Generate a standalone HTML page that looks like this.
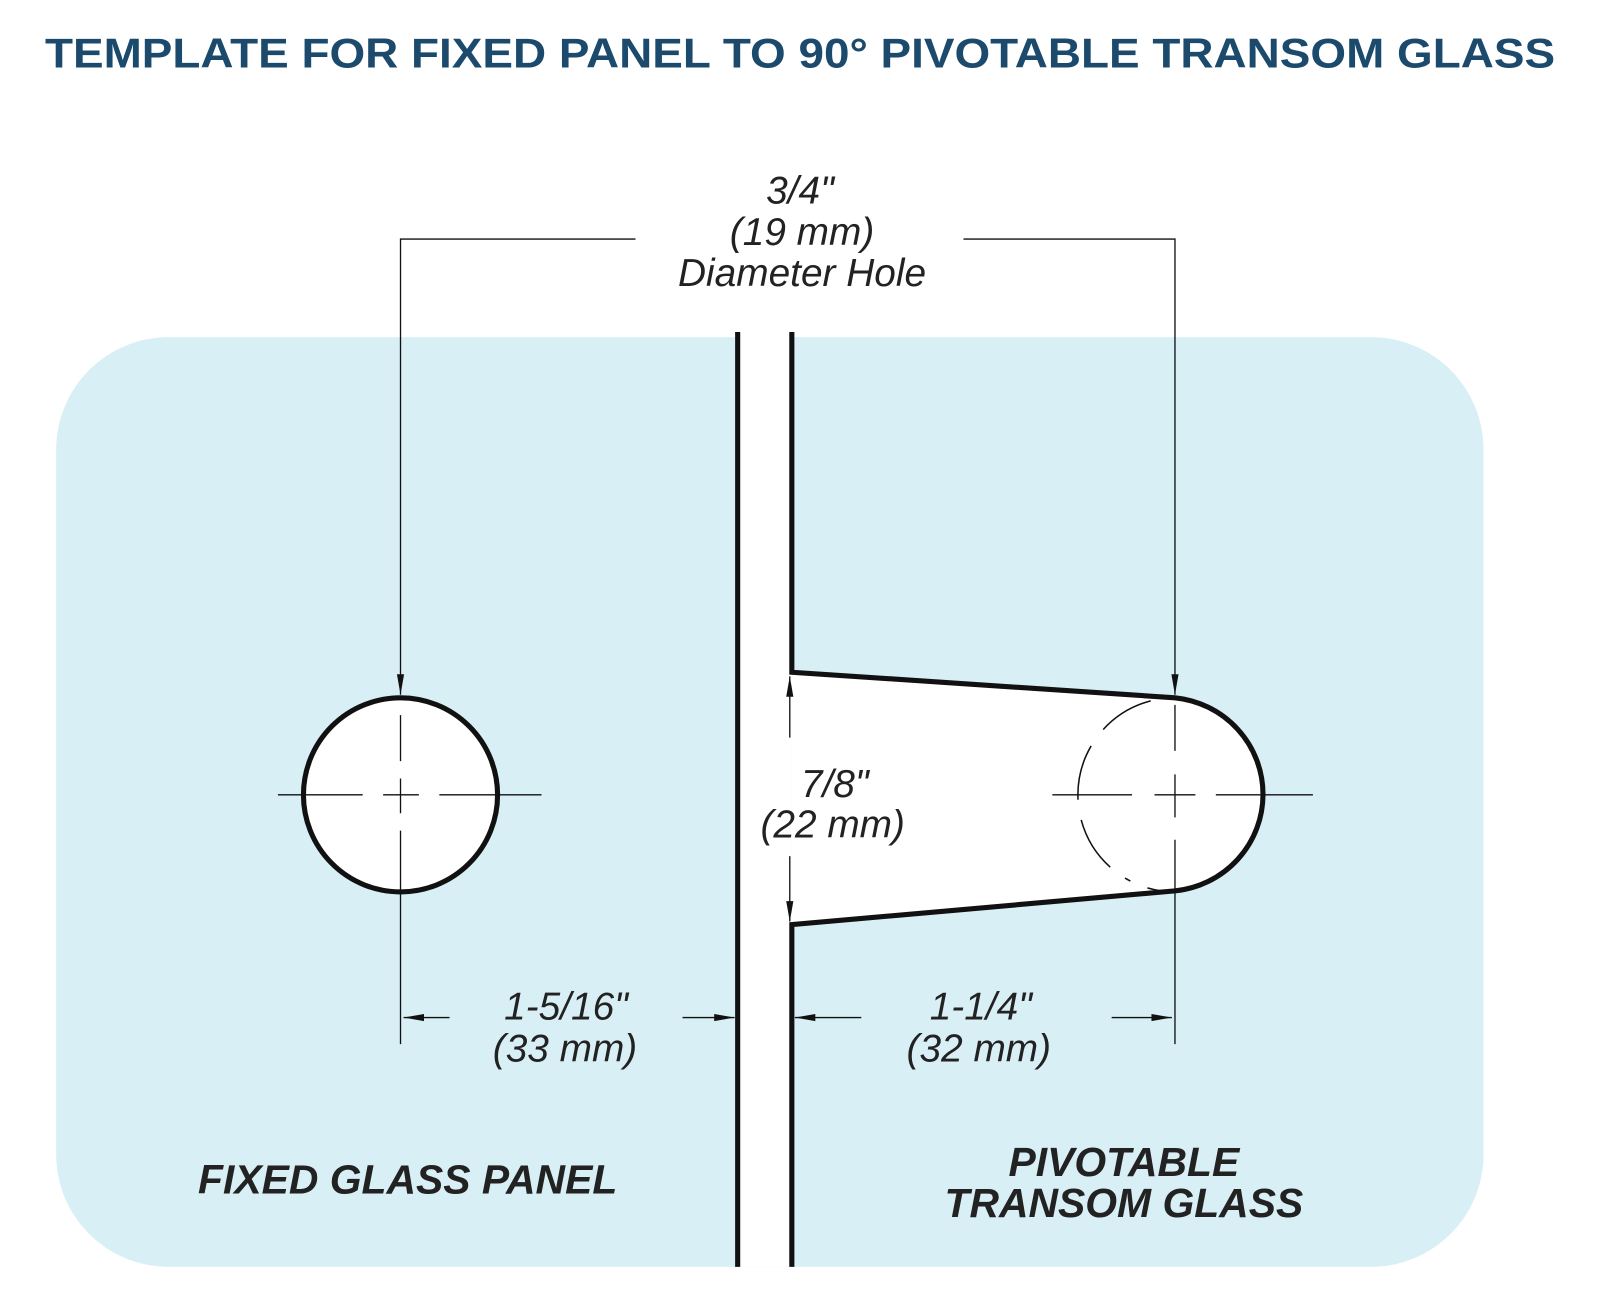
<!DOCTYPE html>
<html><head><meta charset="utf-8"><style>
html,body{margin:0;padding:0;background:#fff;}
svg{display:block;}
text{font-family:"Liberation Sans",Arial,sans-serif;}
</style></head><body>
<svg width="1600" height="1298" viewBox="0 0 1566 1270.5" preserveAspectRatio="none" xmlns="http://www.w3.org/2000/svg">
<defs>
<marker id="ahb" viewBox="0 0 20 10" refX="20" refY="5" markerWidth="22" markerHeight="10" markerUnits="userSpaceOnUse" orient="auto">
<path d="M0,1.5 L20,5 L0,8.5 z" fill="#111"/></marker>
</defs>
<text x="783" y="66" text-anchor="middle" font-size="41" font-weight="bold" fill="#1b4a6c" textLength="1478" lengthAdjust="spacingAndGlyphs">TEMPLATE FOR FIXED PANEL TO  90° PIVOTABLE TRANSOM GLASS</text>
<rect x="55" y="330" width="1397" height="910" rx="110" fill="#d9eff6"/>
<rect x="722" y="325" width="53" height="915" fill="#fff"/>
<path d="M775,658 L1150,683 A96,95 0 0 1 1150,872 L775,905 Z" fill="#fff"/>
<line x1="722" y1="325" x2="722" y2="1240" stroke="#111" stroke-width="5"/>
<path d="M775,325 L775,658 L1150,683 A96,95 0 0 1 1150,872 L775,905 L775,1240" fill="none" stroke="#111" stroke-width="5"/>
<path d="M1150,683 A95,95 0 0 0 1150,873" fill="none" stroke="#111" stroke-width="1.5" stroke-dasharray="6,18,55,20,55,20,55,18" />
<circle cx="392" cy="778" r="95" fill="#fff" stroke="#111" stroke-width="5"/>
<g stroke="#111" stroke-width="1.3">
<path d="M272,778 H355 M375,778 H410 M430,778 H530"/>
<path d="M392,700 V745 M392,762 V796 M392,813 V1022"/>
<path d="M1030,778 H1108 M1130,778 H1170 M1190,778 H1285"/>
<path d="M1150,690 V735 M1150,758 V800 M1150,822 V1022"/>
</g>
<g stroke="#111" stroke-width="1.3" fill="none">
<path d="M622,234 H392 V680" marker-end="url(#ahb)"/>
<path d="M943,234 H1150 V680" marker-end="url(#ahb)"/>
<path d="M773,722 V662" marker-end="url(#ahb)"/>
<path d="M773,838 V902" marker-end="url(#ahb)"/>
<path d="M440,996 H395" marker-end="url(#ahb)"/>
<path d="M668,996 H719" marker-end="url(#ahb)"/>
<path d="M843,996 H778" marker-end="url(#ahb)"/>
<path d="M1088,996 H1147" marker-end="url(#ahb)"/>
</g>
<g font-style="italic" font-size="38" fill="#222" text-anchor="middle">
<text x="783" y="199">3/4"</text>
<text x="785" y="240">(19 mm)</text>
<text x="785" y="280">Diameter Hole</text>
<text x="817" y="780">7/8"</text>
<text x="815" y="820">(22 mm)</text>
<text x="554" y="998">1-5/16"</text>
<text x="553" y="1039">(33 mm)</text>
<text x="960" y="998">1-1/4"</text>
<text x="958" y="1039">(32 mm)</text>
</g>
<g font-style="italic" font-weight="bold" font-size="40" fill="#222" text-anchor="middle">
<text x="399" y="1168">FIXED GLASS PANEL</text>
<text x="1100" y="1151">PIVOTABLE</text>
<text x="1100" y="1191">TRANSOM GLASS</text>
</g>
</svg>
</body></html>
